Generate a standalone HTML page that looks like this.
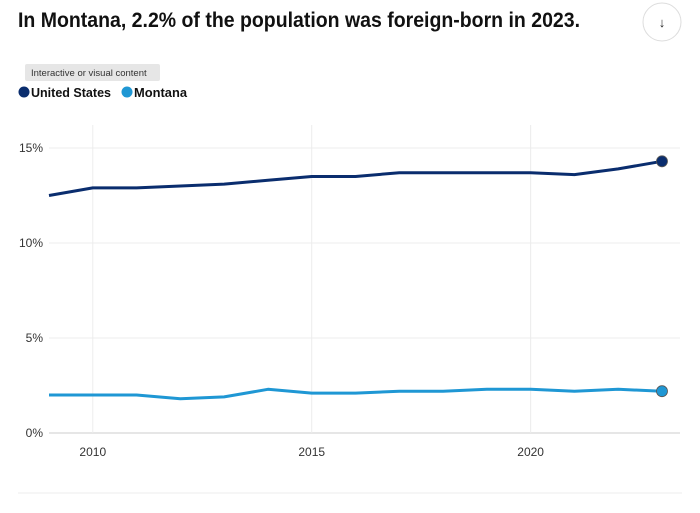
<!DOCTYPE html>
<html><head><meta charset="utf-8"><style>
body{margin:0;background:#fff;width:700px;height:508px;overflow:hidden;font-family:"Liberation Sans",sans-serif}
</style></head><body>
<svg id="c" width="700" height="508" xmlns="http://www.w3.org/2000/svg">
<text x="18" y="27" font-size="21" font-weight="bold" fill="#111" textLength="562" lengthAdjust="spacingAndGlyphs">In Montana, 2.2% of the population was foreign-born in 2023.</text>
<g>
<circle cx="662" cy="22" r="19" fill="#fff" stroke="#ddd"/>
<text x="662" y="27" font-size="13" text-anchor="middle" fill="#222">↓</text>
</g>
<g>
<rect x="25" y="64" width="135" height="17" rx="2" fill="#e6e6e6"/>
<text x="31" y="76" font-size="9.5" fill="#333">Interactive or visual content</text>
</g>
<g>
<circle cx="24" cy="92" r="5.5" fill="#0a2d6e"/>
<text x="31" y="97" font-size="12.5" font-weight="bold" fill="#111" textLength="80" lengthAdjust="spacingAndGlyphs">United States</text>
</g>
<g>
<circle cx="127" cy="92" r="5.5" fill="#1f97d4"/>
<text x="134" y="97" font-size="12.5" font-weight="bold" fill="#111" textLength="53" lengthAdjust="spacingAndGlyphs">Montana</text>
</g>
<line x1="18" y1="493" x2="682" y2="493" stroke="#eee"/>
<g id="plot"></g>
</svg>
<script>
const years=[2009,2010,2011,2012,2013,2014,2015,2016,2017,2018,2019,2020,2021,2022,2023];
const usValues=[12.5,12.9,12.9,13.0,13.1,13.3,13.5,13.5,13.7,13.7,13.7,13.7,13.6,13.9,14.3];
const mtValues=[2.0,2.0,2.0,1.8,1.9,2.3,2.1,2.1,2.2,2.2,2.3,2.3,2.2,2.3,2.2];
const yTicks=[0,5,10,15];
const yTickLabels=["0%","5%","10%","15%"];
const xTicks=[2010,2015,2020];
const NS="http://www.w3.org/2000/svg";
const g=document.getElementById('plot');
const x=v=>49+(v-2009)*(662-49)/14;
const y=v=>433-v*19;
function mk(t,a){const e=document.createElementNS(NS,t);for(const k in a)e.setAttribute(k,a[k]);g.appendChild(e);return e;}
yTicks.forEach((t,i)=>{
  const l=mk('line',{x1:49,x2:680,y1:y(t),y2:y(t),stroke:t===0?'#ccc':'#ececec'});
  
  
  const tx=mk('text',{x:43,y:y(t)+4,'font-size':12,'text-anchor':'end',fill:'#333'});
  tx.textContent=yTickLabels[i];
  
  
});
xTicks.forEach(t=>{
  const l=mk('line',{x1:x(t),x2:x(t),y1:125,y2:433,stroke:'#ececec'});
  
  
  const tx=mk('text',{x:x(t),y:456,'font-size':12,'text-anchor':'middle',fill:'#333'});
  tx.textContent=t;
  
  
});
function series(vals,color,name){
  const p=mk('polyline',{points:vals.map((v,i)=>x(years[i])+','+y(v)).join(' '),fill:'none',stroke:color,'stroke-width':3,'stroke-linejoin':'round'});
  
  
  const n=vals.length-1;
  const c=mk('circle',{cx:x(years[n]),cy:y(vals[n]),r:5.5,fill:color,stroke:'#555','stroke-width':0.8});
  
  
}
series(usValues,'#0a2d6e','us');
series(mtValues,'#1f97d4','montana');
</script>
</body></html>
